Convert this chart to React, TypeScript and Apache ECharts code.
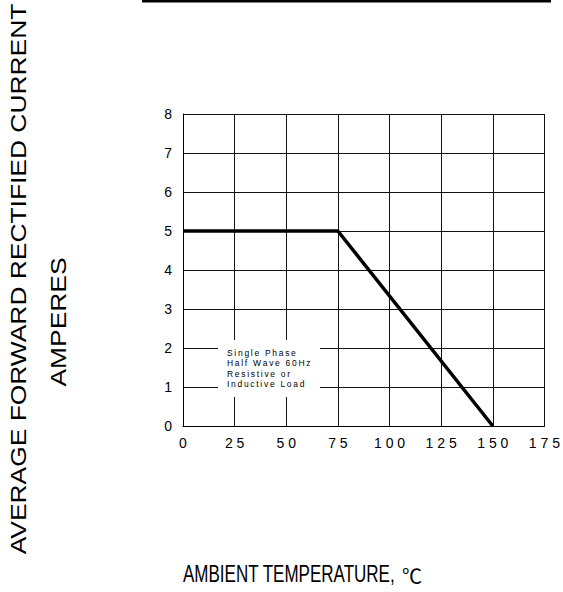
import React, { useEffect, useRef } from "react";
import * as echarts from "echarts";

const xTicks = [0, 25, 50, 75, 100, 125, 150, 175];
const yTicks = [0, 1, 2, 3, 4, 5, 6, 7, 8];
const curveX = [0, 75, 150];
const curveY = [5, 5, 0];
const yTitle = "AVERAGE FORWARD RECTIFIED CURRENT";
const yTitle2 = "AMPERES";
const xTitle = "AMBIENT TEMPERATURE,";
const unit = "℃";
const noteLines = ["Single Phase", "Half Wave 60Hz", "Resistive or", "Inductive Load"];

const spaced = (s: string, sep: string) => s.split("").join(sep);
const FONT = "'Liberation Sans', Arial, sans-serif";

export default function App() {
  const ref = useRef<HTMLDivElement>(null);
  useEffect(() => {
    if (!ref.current) return;
    const chart = echarts.init(ref.current, null, { renderer: "svg" });
    chart.setOption({
      animation: false,
      backgroundColor: "#fff",
      grid: { left: 183, right: 17, top: 114, bottom: 166, containLabel: false },
      xAxis: {
        type: "value",
        min: xTicks[0],
        max: xTicks[xTicks.length - 1],
        interval: 25,
        axisLine: { show: true, lineStyle: { color: "#000", width: 1 } },
        axisTick: { show: false },
        axisLabel: {
          color: "#000",
          fontSize: 14,
          fontFamily: FONT,
          margin: 10,
          formatter: (v: number) => spaced(String(v), " "),
        },
        splitLine: { show: true, lineStyle: { color: "#111", width: 1 } },
      },
      yAxis: {
        type: "value",
        min: yTicks[0],
        max: yTicks[yTicks.length - 1],
        interval: 1,
        axisLine: { show: true, lineStyle: { color: "#000", width: 1 } },
        axisTick: { show: false },
        axisLabel: { color: "#000", fontSize: 14, fontFamily: FONT, margin: 11 },
        splitLine: { show: true, lineStyle: { color: "#111", width: 1 } },
      },
      series: [
        {
          type: "line",
          data: curveX.map((x, i) => [x, curveY[i]]),
          showSymbol: false,
          symbol: "none",
          lineStyle: { color: "#000", width: 3.5 },
          z: 3,
        },
      ],
      graphic: [
        { type: "rect", shape: { x: 142, y: 0, width: 409, height: 2.5 }, style: { fill: "#000" } },
        {
          type: "text",
          x: 18,
          y: 279,
          rotation: Math.PI / 2,
          scaleX: 1.2,
          style: {
            text: yTitle,
            fontSize: 22,
            fontFamily: FONT,
            fill: "#000",
            align: "center",
            verticalAlign: "middle",
          },
        },
        {
          type: "text",
          x: 58.5,
          y: 322,
          rotation: Math.PI / 2,
          scaleX: 1.2,
          style: {
            text: yTitle2,
            fontSize: 22,
            fontFamily: FONT,
            fill: "#000",
            align: "center",
            verticalAlign: "middle",
          },
        },
        {
          type: "text",
          x: 183,
          y: 574,
          scaleX: 0.74,
          style: {
            text: xTitle,
            fontSize: 23,
            fontFamily: FONT,
            fill: "#000",
            align: "left",
            verticalAlign: "middle",
          },
        },
        {
          type: "text",
          x: 402,
          y: 575,
          style: {
            text: unit,
            fontSize: 20,
            fontFamily: "'Noto Sans CJK SC', sans-serif",
            fill: "#000",
            align: "left",
            verticalAlign: "middle",
          },
        },
        {
          type: "rect",
          z: 10,
          shape: { x: 218, y: 340, width: 102, height: 57 },
          style: { fill: "#fff" },
        },
        ...noteLines.map((t, i) => ({
          type: "text",
          z: 11,
          x: 227,
          y: 353 + i * 10.3,
          style: {
            text: spaced(t, "\u2009"),
            fontSize: 8.5,
            fontFamily: FONT,
            fill: "#000",
            align: "left",
            verticalAlign: "middle",
          },
        })),
      ],
    });
    return () => chart.dispose();
  }, []);
  return (
    <div
      ref={ref}
      style={{ position: "fixed", left: 0, top: 0, width: 563, height: 592, background: "#fff" }}
    />
  );
}
